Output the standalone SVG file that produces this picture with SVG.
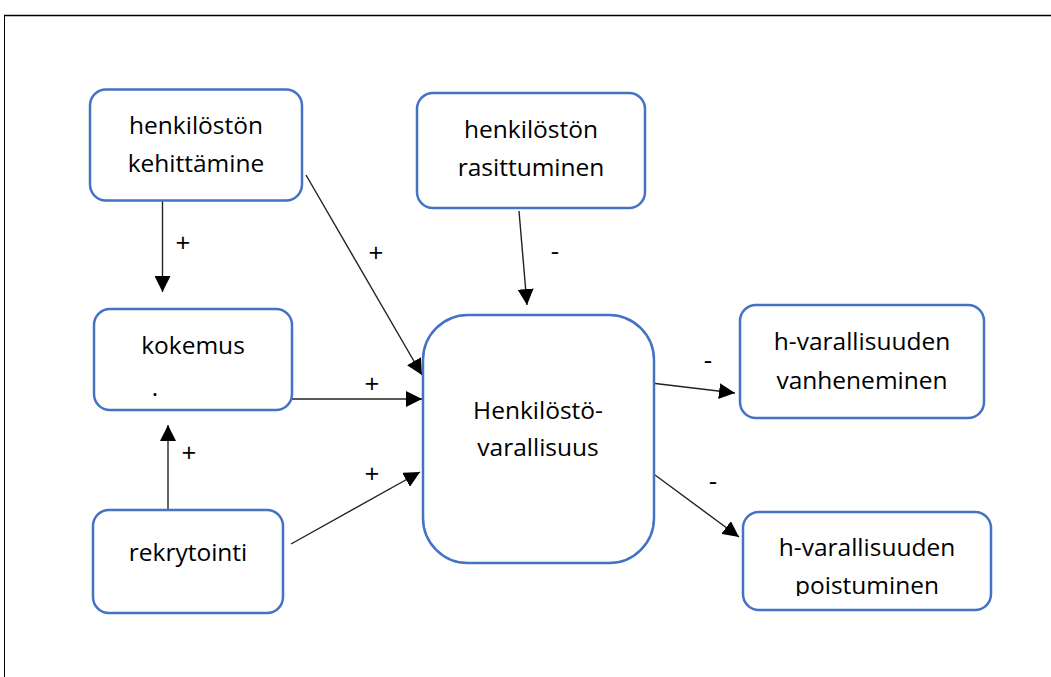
<svg xmlns="http://www.w3.org/2000/svg" width="1051" height="677" viewBox="0 0 1051 677">
<style>
.box{fill:#fff;stroke:#4472C4;stroke-width:2.5}
.t{font-family:"Open Sans","Liberation Sans",sans-serif;font-size:24.5px;fill:#000;text-anchor:middle}
.s{font-family:"Open Sans","Liberation Sans",sans-serif;font-size:26px;fill:#000;text-anchor:middle}
.c{stroke:#222;stroke-width:1.4;fill:none;marker-end:url(#ah)}
.frame{stroke:#000;fill:none}
</style>
<defs>
<marker id="ah" markerUnits="userSpaceOnUse" markerWidth="16" markerHeight="16" refX="16" refY="8" orient="auto" viewBox="0 0 16 16">
<path d="M0,0 L16,8 L0,16 z" fill="#000"/>
</marker>
<clipPath id="clipP"><rect x="740" y="500" width="260" height="96"/></clipPath>
</defs>
<line class="frame" x1="4" y1="15.5" x2="1051" y2="15.5" stroke-width="1.6"/>
<line class="frame" x1="4.5" y1="15" x2="4.5" y2="677" stroke-width="1"/>

<g id="connectors">
<line class="c" x1="162.5" y1="200" x2="162.5" y2="292"/>
<text class="s" x="183" y="252">+</text>
<line class="c" x1="306" y1="175" x2="422" y2="375"/>
<text class="s" x="376" y="262">+</text>
<line class="c" x1="287" y1="399" x2="422" y2="399"/>
<text class="s" x="372" y="393">+</text>
<line class="c" x1="168" y1="513" x2="168" y2="425"/>
<text class="s" x="189" y="462">+</text>
<line class="c" x1="291" y1="544" x2="420" y2="472"/>
<text class="s" x="372" y="483">+</text>
<line class="c" x1="519" y1="211" x2="527" y2="305"/>
<text class="s" x="555" y="260">-</text>
<line class="c" x1="651" y1="383" x2="735" y2="393"/>
<text class="s" x="708" y="369">-</text>
<line class="c" x1="655" y1="475" x2="739" y2="537"/>
<text class="s" x="713" y="490">-</text>
</g>

<g id="kehittamine">
<rect class="box" x="90" y="89.5" width="212" height="111" rx="16"/>
<text class="t" x="196" y="134">henkilöstön</text>
<text class="t" x="196" y="172">kehittämine</text>
</g>
<g id="kokemus">
<rect class="box" x="94" y="309" width="198" height="101" rx="16"/>
<text class="t" x="193" y="354">kokemus</text>
<text class="t" x="155" y="396" font-size="9">.</text>
</g>
<g id="rekrytointi">
<rect class="box" x="93" y="510" width="190" height="103" rx="16"/>
<text class="t" x="188" y="561">rekrytointi</text>
</g>
<g id="rasittuminen">
<rect class="box" x="417" y="93" width="228" height="115" rx="16"/>
<text class="t" x="531" y="138">henkilöstön</text>
<text class="t" x="531" y="176">rasittuminen</text>
</g>
<g id="henkilostovarallisuus">
<rect class="box" x="423" y="315" width="231" height="248" rx="45"/>
<text class="t" x="538" y="419">Henkilöstö-</text>
<text class="t" x="538" y="456">varallisuus</text>
</g>
<g id="vanheneminen">
<rect class="box" x="740" y="305" width="244" height="113" rx="16"/>
<text class="t" x="862" y="350">h-varallisuuden</text>
<text class="t" x="862" y="389">vanheneminen</text>
</g>
<g id="poistuminen">
<rect class="box" x="743" y="512" width="248" height="98" rx="16"/>
<text class="t" x="867" y="556">h-varallisuuden</text>
<text class="t" x="867" y="594" clip-path="url(#clipP)">poistuminen</text>
</g>
</svg>
